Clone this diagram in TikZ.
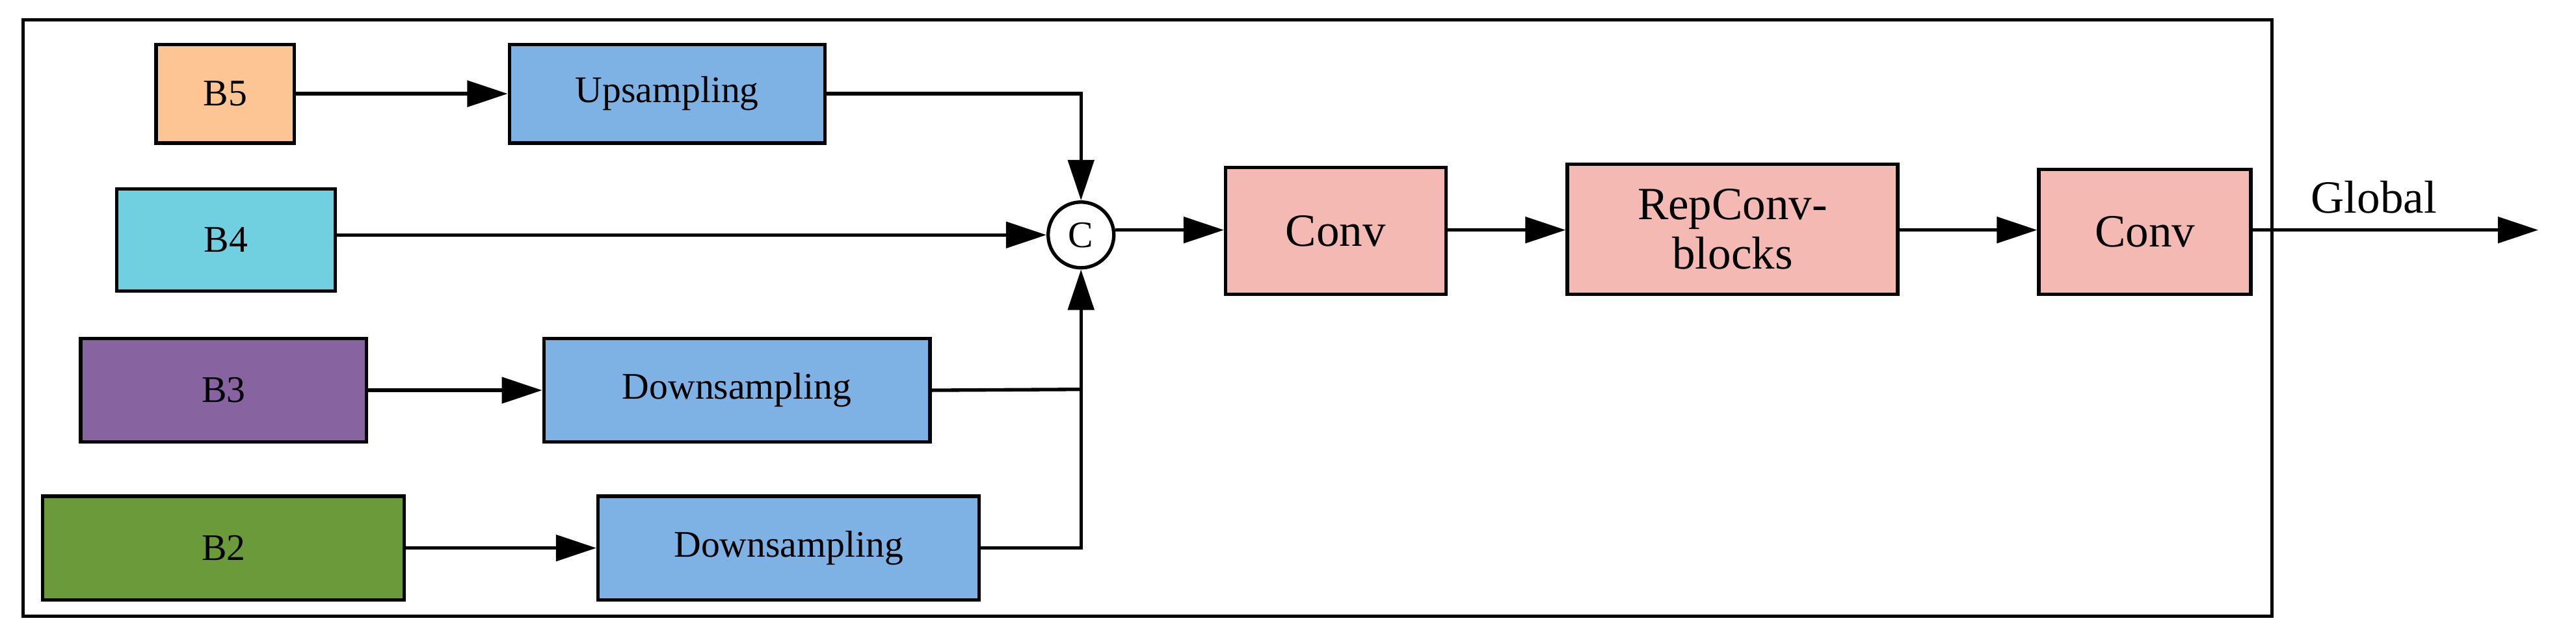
\documentclass[tikz,border=0pt]{standalone}
\usepackage{fontspec}
\setmainfont{Liberation Serif}
\usetikzlibrary{arrows.meta}
\definecolor{peach}{HTML}{FDC593}
\definecolor{blu}{HTML}{7EB2E4}
\definecolor{cya}{HTML}{70D0E0}
\definecolor{pur}{HTML}{8763A0}
\definecolor{grn}{HTML}{6A9A3A}
\definecolor{pnk}{HTML}{F4B9B3}
\begin{document}
\begin{tikzpicture}[x=0.02cm,y=-0.02cm,
 box/.style={draw,line width=1.2pt,anchor=north west,inner sep=0pt,font=\fontsize{13}{15}\selectfont},
 bigbox/.style={box,font=\fontsize{16}{17}\selectfont,align=center},
 arr/.style={line width=1.2pt,-{Triangle[length=14pt,width=9pt]}},
 ln/.style={line width=1.2pt}]
\useasboundingbox (0,0) rectangle (1568,388);
\draw[line width=1.2pt] (14,12) rectangle (1383,375);
\node[box,fill=peach,minimum width=84*0.02cm,minimum height=60*0.02cm] (b5) at (94,26) {B5};
\node[box,fill=blu,minimum width=192*0.02cm,minimum height=60*0.02cm] (up) at (309,26) {Upsampling};
\node[box,fill=cya,minimum width=133*0.02cm,minimum height=62*0.02cm] (b4) at (70,114) {B4};
\node[box,fill=pur,minimum width=174*0.02cm,minimum height=63*0.02cm] (b3) at (48,205) {B3};
\node[box,fill=blu,minimum width=235*0.02cm,minimum height=63*0.02cm] (d1) at (330,205) {Downsampling};
\node[box,fill=grn,minimum width=220*0.02cm,minimum height=63*0.02cm] (b2) at (25,301) {B2};
\node[box,fill=blu,minimum width=232*0.02cm,minimum height=63*0.02cm] (d2) at (363,301) {Downsampling};
\node[draw,circle,line width=1.2pt,minimum size=40*0.02cm,inner sep=0pt,font=\fontsize{13}{15}\selectfont] (c) at (658,143) {C};
\node[bigbox,fill=pnk,minimum width=134*0.02cm,minimum height=77*0.02cm] (cv1) at (745,101) {Conv};
\node[bigbox,fill=pnk,minimum width=201*0.02cm,minimum height=79*0.02cm] (rep) at (953,99) {RepConv-\\blocks};
\node[bigbox,fill=pnk,minimum width=129*0.02cm,minimum height=76*0.02cm] (cv2) at (1240,102) {Conv};
\coordinate (out) at (1545,140);
\node[font=\fontsize{16}{17}\selectfont,anchor=south] (gl) at (1445,136) {Global};
\draw[arr] (b5) -- (up);
\draw[arr] (up.east) -| (c.north);
\draw[arr] (b4.east |- c) -- (c.west);
\draw[arr] (b3) -- (d1);
\draw[ln] (d1.east) -- (658,237);
\draw[arr] (b2) -- (d2);
\draw[arr] (d2.east) -| (c.south);
\draw[arr] (c.east |- 0,140) -- (cv1.west |- 0,140);
\draw[arr] (cv1.east |- 0,140) -- (rep.west |- 0,140);
\draw[arr] (rep.east |- 0,140) -- (cv2.west |- 0,140);
\draw[arr] (cv2.east |- out) -- (out);
\end{tikzpicture}
\end{document}
